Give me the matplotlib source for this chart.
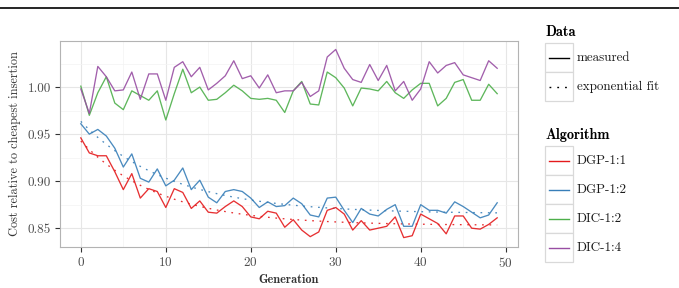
import numpy as np
import matplotlib
matplotlib.use('Agg')
import matplotlib.pyplot as plt
from matplotlib.lines import Line2D
from matplotlib.patches import Rectangle

plt.rcParams['font.family'] = ['cmr10', 'DejaVu Serif']
plt.rcParams['axes.formatter.use_mathtext'] = True

# values
generation = np.arange(50)

dgp_1_1 = [0.946, 0.930, 0.927, 0.927, 0.910, 0.891, 0.908, 0.882, 0.892, 0.889,
           0.872, 0.892, 0.888, 0.871, 0.879, 0.867, 0.866, 0.873, 0.879, 0.873,
           0.862, 0.860, 0.868, 0.866, 0.851, 0.859, 0.848, 0.841, 0.846, 0.869,
           0.872, 0.865, 0.848, 0.858, 0.848, 0.850, 0.852, 0.862, 0.840, 0.842,
           0.865, 0.860, 0.855, 0.844, 0.863, 0.863, 0.850, 0.849, 0.854, 0.861]
dgp_1_2 = [0.961, 0.950, 0.955, 0.948, 0.935, 0.915, 0.929, 0.903, 0.899, 0.913,
           0.895, 0.901, 0.914, 0.891, 0.901, 0.883, 0.877, 0.889, 0.891, 0.889,
           0.882, 0.872, 0.878, 0.873, 0.874, 0.882, 0.876, 0.864, 0.862, 0.882,
           0.883, 0.869, 0.856, 0.871, 0.865, 0.863, 0.870, 0.875, 0.852, 0.852,
           0.875, 0.869, 0.869, 0.866, 0.878, 0.873, 0.867, 0.861, 0.864, 0.877]
dic_1_2 = [1.001, 0.970, 0.994, 1.011, 0.983, 0.976, 0.996, 0.991, 0.986, 0.996,
           0.965, 0.993, 1.019, 0.994, 1.000, 0.986, 0.987, 0.994, 1.002, 0.996,
           0.988, 0.987, 0.988, 0.986, 0.973, 0.996, 1.006, 0.982, 0.981, 1.016,
           1.010, 0.999, 0.980, 0.999, 0.998, 0.996, 1.006, 0.994, 0.988, 0.997,
           1.004, 1.004, 0.980, 0.988, 1.005, 1.008, 0.986, 0.986, 1.003, 0.993]
dic_1_4 = [0.998, 0.972, 1.022, 1.011, 0.996, 0.997, 1.016, 0.987, 1.014, 1.014,
           0.986, 1.021, 1.027, 1.011, 1.021, 0.997, 1.004, 1.012, 1.028, 1.009,
           1.012, 0.999, 1.013, 0.994, 0.996, 0.996, 1.005, 0.990, 0.996, 1.032,
           1.040, 1.020, 1.008, 1.005, 1.024, 1.007, 1.023, 0.996, 1.006, 0.986,
           0.998, 1.027, 1.015, 1.023, 1.026, 1.013, 1.010, 1.007, 1.028, 1.020]

algorithms = ['DGP-1:1', 'DGP-1:2', 'DIC-1:2', 'DIC-1:4']
series = [dgp_1_1, dgp_1_2, dic_1_2, dic_1_4]
colors = ['#E41A1C', '#377EB8', '#4DAF4A', '#984EA3']
fitted = ['DGP-1:1', 'DGP-1:2']

W, H = 679, 288


def exp_fit(x, y):
    # y = a + b * exp(-c x), grid search on c, least squares on a, b
    best = None
    for c in np.linspace(0.005, 0.6, 600):
        A = np.column_stack([np.ones_like(x, dtype=float), np.exp(-c * x)])
        coef, res, _, _ = np.linalg.lstsq(A, y, rcond=None)
        err = np.sum((A @ coef - y) ** 2)
        if best is None or err < best[0]:
            best = (err, coef, c)
    _, (a, b), c = best
    return a + b * np.exp(-c * x)


def px(x, y):
    return x / W, 1 - y / H


fig = plt.figure(figsize=(W / 100, H / 100), dpi=100)
ax = fig.add_axes([60 / W, 1 - 247 / H, 458 / W, 206 / H])

for name, vals, col in zip(algorithms, series, colors):
    vals = np.array(vals)
    ax.plot(generation, vals, color=col, lw=0.95, alpha=0.9, zorder=3)
    if name in fitted:
        ax.plot(generation, exp_fit(generation, vals), color=col, lw=0.95,
                linestyle=(0, (1.3, 4.3)), alpha=0.9, zorder=2)

ax.set_xlim(-2.45, 51.45)
ax.set_ylim(0.830, 1.049)
ax.set_xticks([0, 10, 20, 30, 40, 50])
ax.set_yticks([0.85, 0.90, 0.95, 1.00])
ax.set_yticklabels(['0.85', '0.90', '0.95', '1.00'])
ax.set_xticks([5, 15, 25, 35, 45], minor=True)
ax.set_yticks([0.875, 0.925, 0.975, 1.025], minor=True)
ax.grid(True, which='major', color='#e6e6e6', lw=0.8, zorder=0)
ax.grid(True, which='minor', color='#f3f3f3', lw=0.5, zorder=0)
ax.set_axisbelow(True)
ax.tick_params(which='major', length=3.5, width=0.8, color='#333333',
               labelsize=9.5, labelcolor='#4d4d4d', pad=3)
ax.tick_params(which='minor', length=0)
for s in ax.spines.values():
    s.set_color('#b3b3b3')
    s.set_linewidth(0.8)

ax.set_xlabel('Generation', fontfamily='cmb10', fontsize=8.8, color='#333333', labelpad=3)
ax.set_ylabel('Cost relative to cheapest insertion', fontsize=8.9, color='#333333', labelpad=5)

# page rule at the top
fig.add_artist(Line2D([0, 1], [1 - 8 / H, 1 - 8 / H], color='black', lw=1.2))

# legends drawn as ggplot-style key boxes
def key_box(y_top, ls, col, label):
    fig.add_artist(Rectangle(px(545, y_top + 29), 28 / W, 29 / H, transform=fig.transFigure,
                             facecolor='white', edgecolor='#d9d9d9', lw=0.9))
    yc = y_top + 14.5
    fig.add_artist(Line2D([549 / W, 569 / W], [1 - yc / H] * 2, color=col, lw=1.0,
                          linestyle=ls))
    fig.text(577 / W, 1 - yc / H, label, fontsize=9.4, va='center', ha='left', color='#1a1a1a')


fig.text(545 / W, 1 - 32 / H, 'Data', fontfamily='cmb10', fontsize=10.3, va='center', ha='left')
key_box(43, '-', 'black', 'measured')
key_box(72, (0, (1.3, 4.3)), 'black', 'exponential fit')

fig.text(545 / W, 1 - 135 / H, 'Algorithm', fontfamily='cmb10', fontsize=10.3, va='center', ha='left')
for i, (name, col) in enumerate(zip(algorithms, colors)):
    key_box(146 + 29 * i, '-', col, name)

fig.savefig('out.png', dpi=100)
